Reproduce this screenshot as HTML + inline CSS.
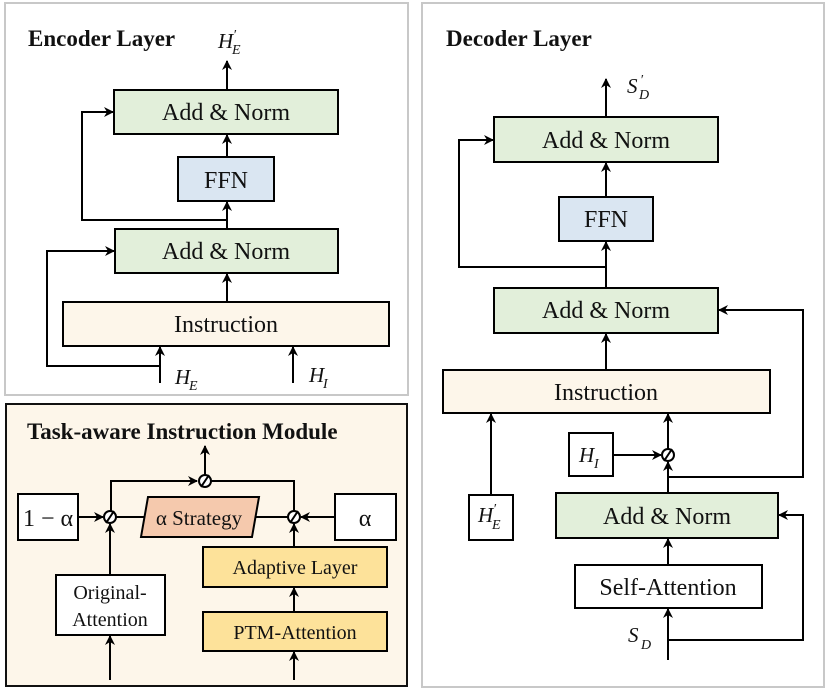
<!DOCTYPE html>
<html><head><meta charset="utf-8"><style>
html,body{margin:0;padding:0;background:#fff}
svg{display:block}
svg text{font-family:'Liberation Serif','Times New Roman',Times,serif;fill:#111}
</style></head><body>
<svg width="830" height="691" viewBox="0 0 830 691" xmlns="http://www.w3.org/2000/svg" font-family="Liberation Serif, Times New Roman, serif">
<defs>
<marker id="a" markerWidth="10" markerHeight="10" refX="9" refY="5" orient="auto" markerUnits="userSpaceOnUse">
<path d="M0,0 L10,5 L0,10 L3,5 z" fill="#000"/></marker>
</defs>
<g stroke="#000" stroke-width="2" fill="none">
<rect x="5" y="3" width="403" height="392" stroke="#c8c8c8"/>
<rect x="422" y="3" width="402" height="684" stroke="#c8c8c8"/>
<rect x="6" y="404" width="401" height="282" fill="#fdf6ea" stroke="#111"/>

<rect x="114" y="90" width="224" height="44" fill="#e2efda"/>
<rect x="178" y="157" width="96" height="44" fill="#dae6f2"/>
<rect x="115" y="229" width="223" height="44" fill="#e2efda"/>
<rect x="63" y="302" width="326" height="44" fill="#fdf6ea"/>
<line x1="227" y1="90" x2="227" y2="61" marker-end="url(#a)"/>
<line x1="227" y1="157" x2="227" y2="135" marker-end="url(#a)"/>
<line x1="227" y1="229" x2="227" y2="202" marker-end="url(#a)"/>
<line x1="227" y1="302" x2="227" y2="274" marker-end="url(#a)"/>
<polyline points="227,220 82,220 82,112 113,112" marker-end="url(#a)"/>
<line x1="160" y1="383" x2="160" y2="347" marker-end="url(#a)"/>
<polyline points="160,366 47,366 47,251 114,251" marker-end="url(#a)"/>
<line x1="293" y1="383" x2="293" y2="347" marker-end="url(#a)"/>

<rect x="494" y="117" width="224" height="45" fill="#e2efda"/>
<rect x="559" y="197" width="94" height="44" fill="#dae6f2"/>
<rect x="494" y="288" width="224" height="45" fill="#e2efda"/>
<rect x="443" y="370" width="327" height="43" fill="#fdf6ea"/>
<line x1="606" y1="117" x2="606" y2="79" marker-end="url(#a)"/>
<line x1="606" y1="197" x2="606" y2="163" marker-end="url(#a)"/>
<line x1="606" y1="288" x2="606" y2="242" marker-end="url(#a)"/>
<line x1="606" y1="370" x2="606" y2="334" marker-end="url(#a)"/>
<polyline points="606,267 459,267 459,140 493,140" marker-end="url(#a)"/>
<polyline points="668,477 803,477 803,310 719,310" marker-end="url(#a)"/>
<rect x="569" y="433" width="44" height="43" fill="#fff"/>
<line x1="613" y1="455" x2="661" y2="455" marker-end="url(#a)"/>
<circle cx="668" cy="455" r="6" fill="#fff"/>
<line x1="664" y1="461" x2="672" y2="449"/>
<line x1="668" y1="449" x2="668" y2="414" marker-end="url(#a)"/>
<line x1="668" y1="493" x2="668" y2="462" marker-end="url(#a)"/>
<rect x="469" y="495" width="44" height="45" fill="#fff"/>
<line x1="491" y1="495" x2="491" y2="414" marker-end="url(#a)"/>
<rect x="556" y="493" width="222" height="45" fill="#e2efda"/>
<rect x="575" y="565" width="187" height="43" fill="#fff"/>
<line x1="668" y1="565" x2="668" y2="539" marker-end="url(#a)"/>
<line x1="668" y1="660" x2="668" y2="609" marker-end="url(#a)"/>
<polyline points="668,640 803,640 803,515 779,515" marker-end="url(#a)"/>

<rect x="18" y="494" width="60" height="46" fill="#fff"/>
<rect x="335" y="494" width="61" height="46" fill="#fff"/>
<line x1="78" y1="517" x2="103" y2="517" marker-end="url(#a)"/>
<line x1="335" y1="517" x2="301" y2="517" marker-end="url(#a)"/>
<line x1="116" y1="517" x2="146" y2="517"/>
<line x1="256" y1="517" x2="288" y2="517"/>
<polygon points="148,497 259,497 252,537 141,537" fill="#f5c9ad"/>
<polyline points="111,511 111,481 197,481" marker-end="url(#a)"/>
<polyline points="211,481 294,481 294,511"/>
<line x1="205" y1="475" x2="205" y2="446" marker-end="url(#a)"/>
<circle cx="110" cy="517" r="6" fill="#fff"/>
<line x1="106" y1="523" x2="114" y2="511"/>
<circle cx="205" cy="481" r="6" fill="#fff"/>
<line x1="201" y1="487" x2="209" y2="475"/>
<circle cx="294" cy="517" r="6" fill="#fff"/>
<line x1="290" y1="523" x2="298" y2="511"/>
<rect x="56" y="575" width="109" height="60" fill="#fff"/>
<line x1="110" y1="575" x2="110" y2="524" marker-end="url(#a)"/>
<line x1="110" y1="680" x2="110" y2="636" marker-end="url(#a)"/>
<rect x="203" y="547" width="184" height="40" fill="#fde29a"/>
<rect x="203" y="612" width="184" height="39" fill="#fde29a"/>
<line x1="294" y1="547" x2="294" y2="524" marker-end="url(#a)"/>
<line x1="294" y1="612" x2="294" y2="588" marker-end="url(#a)"/>
<line x1="294" y1="680" x2="294" y2="652" marker-end="url(#a)"/>
</g>

<g font-size="24" text-anchor="middle">
<text x="28" y="46" text-anchor="start" font-weight="bold" font-size="23">Encoder Layer</text>
<text x="226" y="120">Add &amp; Norm</text>
<text x="226" y="188">FFN</text>
<text x="226" y="259">Add &amp; Norm</text>
<text x="226" y="332">Instruction</text>
<text x="446" y="46" text-anchor="start" font-weight="bold" font-size="23">Decoder Layer</text>
<text x="606" y="148">Add &amp; Norm</text>
<text x="606" y="227">FFN</text>
<text x="606" y="318">Add &amp; Norm</text>
<text x="606" y="400">Instruction</text>
<text x="667" y="524">Add &amp; Norm</text>
<text x="668" y="595">Self-Attention</text>
<text x="27" y="439" text-anchor="start" font-weight="bold" font-size="23">Task-aware Instruction Module</text>
<text x="48" y="526">1 − α</text>
<text x="365" y="526">α</text>
<text x="199" y="525" font-size="21">α Strategy</text>
<text x="110" y="599" font-size="20">Original-</text>
<text x="110" y="626" font-size="20">Attention</text>
<text x="295" y="574" font-size="20">Adaptive Layer</text>
<text x="295" y="639" font-size="20">PTM-Attention</text>
</g>
<g font-style="italic" font-size="21">
<text x="218" y="48">H</text><text x="233" y="39" font-size="14">′</text><text x="232" y="54" font-size="14">E</text>
<text x="175" y="384">H</text><text x="189" y="390" font-size="14">E</text>
<text x="309" y="382">H</text><text x="323" y="388" font-size="14">I</text>
<text x="627" y="93">S</text><text x="640" y="84" font-size="14">′</text><text x="639" y="99" font-size="14">D</text>
<text x="579" y="462">H</text><text x="594" y="468" font-size="14">I</text>
<text x="478" y="522">H</text><text x="493" y="513" font-size="14">′</text><text x="492" y="529" font-size="14">E</text>
<text x="628" y="642">S</text><text x="641" y="649" font-size="14">D</text>
</g>
</svg>
</body></html>
